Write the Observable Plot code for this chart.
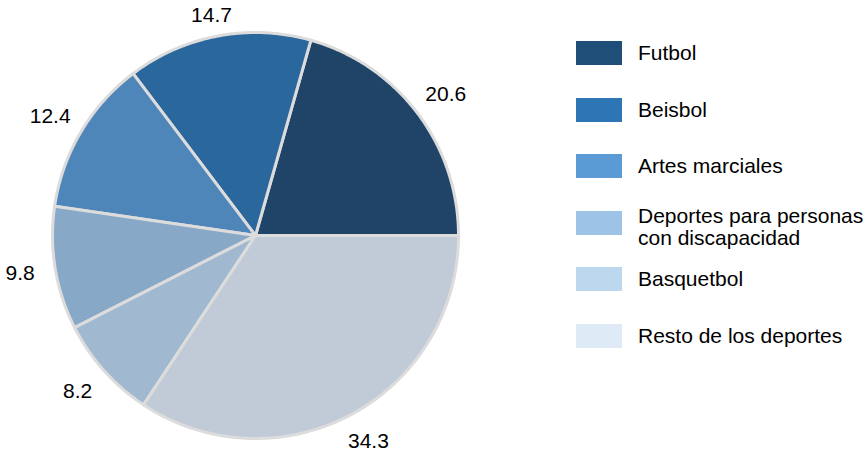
<!DOCTYPE html>
<html>
<head>
<meta charset="utf-8">
<script src="https://cdn.jsdelivr.net/npm/d3@7"></script>
<script src="https://cdn.jsdelivr.net/npm/@observablehq/plot@0.6"></script>
<style>
  html, body { margin: 0; padding: 0; background: #fff; }
  #wrap { position: relative; width: 868px; height: 461px; overflow: hidden; font-family: "Liberation Sans", Arial, sans-serif; }
  #chart { position: absolute; left: 0; top: 0; }
  .sw { position: absolute; width: 46px; height: 24px; }
  .lt { position: absolute; font-size: 21px; line-height: 22px; color: #000; white-space: nowrap; }
</style>
</head>
<body>
<div id="wrap"><div id="chart"></div></div>
<script>
const categories = ["Futbol", "Beisbol", "Artes marciales", "Deportes para personas con discapacidad", "Basquetbol", "Resto de los deportes"];
const legendLines = [["Futbol"], ["Beisbol"], ["Artes marciales"], ["Deportes para personas", "con discapacidad"], ["Basquetbol"], ["Resto de los deportes"]];
const values = [20.6, 14.7, 12.4, 9.8, 8.2, 34.3];
const valueLabels = ["20.6", "14.7", "12.4", "9.8", "8.2", "34.3"];
const pieColors = ["#1f4468", "#2a679c", "#4f86b9", "#88a8c8", "#a0b9d0", "#c0cbd7"];
const legendColors = ["#1f4e79", "#2e75b6", "#5b9bd5", "#9dc3e6", "#bdd7ee", "#deebf7"];

// layout
const W = 510, H = 461, CX = 255, CY = 235, RADIUS = 203;

const total = d3.sum(values);
const cum = [0, ...d3.cumsum(values)];
const slices = values.map((v, i) => {
  const a0 = 2 * Math.PI * cum[i] / total;
  const a1 = 2 * Math.PI * cum[i + 1] / total;
  const n = Math.max(2, Math.ceil((a1 - a0) * 180 / Math.PI * 2));
  const ring = [[0, 0]];
  for (let k = 0; k <= n; k++) {
    const a = a0 + (a1 - a0) * k / n;
    ring.push([Math.cos(a), Math.sin(a)]);
  }
  ring.push([0, 0]);
  return {
    name: categories[i],
    label: valueLabels[i],
    mid: (a0 + a1) / 2,
    geometry: {type: "Polygon", coordinates: [ring]}
  };
});

// frame extent in unit-circle coordinates (y up)
const x0 = -CX / RADIUS, x1 = (W - CX) / RADIUS;
const yTop = CY / RADIUS, yBot = -(H - CY) / RADIUS;
const yMax = (CY - 15) / RADIUS;
const RX = 1.175, RY = 1.15;

const chart = Plot.plot({
  width: W,
  height: H,
  margin: 0,
  style: {fontFamily: '"Liberation Sans", Arial, sans-serif', background: "transparent"},
  projection: {type: "reflect-y", inset: 0, domain: {type: "MultiPoint", coordinates: [[x0, yBot], [x1, yTop]]}},
  color: {domain: categories, range: pieColors},
  marks: [
    Plot.geo(slices, {geometry: d => d.geometry, fill: d => d.name, stroke: "#dcdcdc", strokeWidth: 3, strokeLinejoin: "round"}),
    Plot.text(slices, {
      x: d => RX * Math.cos(d.mid),
      y: d => Math.min(yMax, RY * Math.sin(d.mid)),
      text: d => d.label, fontSize: 21, fill: "#000"
    })
  ]
});
document.getElementById("chart").appendChild(chart);

const wrap = document.getElementById("wrap");
categories.forEach((c, i) => {
  const top = 41 + i * 56.6;
  const sw = document.createElement("div");
  sw.className = "sw";
  sw.style.left = "576px";
  sw.style.top = top + "px";
  sw.style.background = legendColors[i];
  wrap.appendChild(sw);
  const lines = legendLines[i];
  const t = document.createElement("div");
  t.className = "lt";
  t.style.left = "638px";
  const h = lines.length * 22;
  t.style.top = (top + 12 - h / 2 + (lines.length > 1 ? 4 : 0)) + "px";
  t.innerHTML = lines.join("<br>");
  wrap.appendChild(t);
});
</script>
</body>
</html>
